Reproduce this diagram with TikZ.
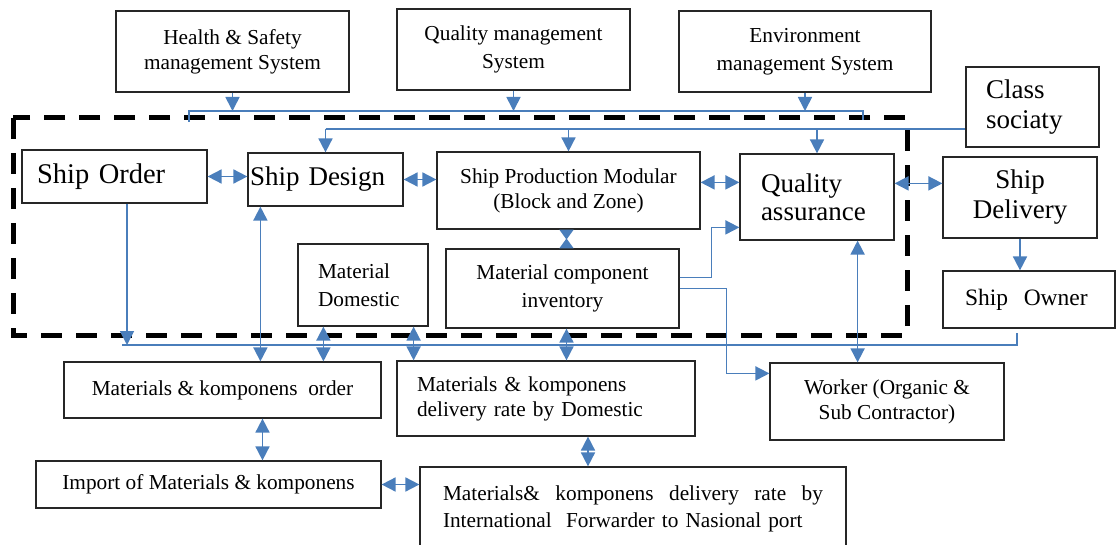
\documentclass[tikz,border=0pt]{standalone}
\usepackage{fontspec}
\setmainfont{Liberation Serif}
\usepackage{tikz}
\usetikzlibrary{arrows.meta}
\definecolor{lineblue}{RGB}{74,126,187}
\newcommand{\normtxt}{\fontsize{21.3}{27}\selectfont}
\newcommand{\bigtxt}{\fontsize{27}{30}\selectfont}

\begin{document}
\begin{tikzpicture}[x=1pt, y=-1pt,
    box/.style={draw=black!85, line width=1.2pt, inner sep=0pt, align=center, font=\normtxt},
    wire/.style={draw=lineblue, line width=1.7pt},
    arr/.style={wire, -{Triangle[length=14pt,width=14pt]}},
    dbl/.style={wire, {Triangle[length=14pt,width=14pt]}-{Triangle[length=14pt,width=14pt]}},
    dashframe/.style={draw=black, line width=5pt, dash pattern=on 21pt off 14pt}]

    \useasboundingbox (0,0) rectangle (1116,545);

    % Shipyard frame
    \draw[dashframe] (13,118) rectangle (907,335);

    % Management systems
    \node[box, minimum width=233pt, minimum height=81pt] (hs) at (232.5,51.5) {Health \& Safety\\[-2pt]management System};
    \node[box, minimum width=233pt, minimum height=81pt] (qms) at (513.5,49.5) {Quality management\\[1pt]System};
    \node[box, minimum width=252pt, minimum height=81pt] (ems) at (805,51.5) {Environment\\[1pt]management System};
    \node[box, font=\bigtxt, align=left, text width=93pt, minimum width=133pt, minimum height=80pt] (cs) at (1032.5,107) {Class\\sociaty};

    % Ship process
    \node[box, font=\fontsize{28.5}{30}\selectfont, align=left, text width=155pt, minimum width=185pt, minimum height=53pt] (so) at (114.5,176.5) {Ship Order};
    \node[box, font=\bigtxt, align=left, text width=151pt, minimum width=155pt, minimum height=53pt] (sd) at (325.5,179.5) {Ship Design};
    \node[box, minimum width=263pt, minimum height=77pt] (sp) at (568.5,190.5) {Ship Production Modular\\[-2pt](Block and Zone)};
    \node[box, font=\bigtxt, align=left, text width=112pt, minimum width=154pt, minimum height=86pt] (qa) at (817,197) {Quality\\[-2pt]assurance};
    \node[box, font=\bigtxt, minimum width=154pt, minimum height=81pt] (sdl) at (1020,197.5) {Ship\\Delivery};
    \node[box, font=\fontsize{23.5}{27}\selectfont, align=left, text width=128pt, minimum width=172pt, minimum height=57pt] (sow) at (1029,299.5) {Ship\ \ Owner};
    \node[box, align=left, text width=90pt, minimum width=130pt, minimum height=82pt] (md) at (363,285) {Material\\[1pt]Domestic};
    \node[box, minimum width=233pt, minimum height=79pt] (mci) at (562.5,288.5) {Material component\\[1pt]inventory};

    % Supply side
    \node[box, minimum width=317pt, minimum height=56pt] (mo) at (222.5,390) {Materials \& komponens\ \ order};
    \node[box, align=left, text width=258pt, minimum width=298pt, minimum height=75pt] (mdd) at (546,398.5) {Materials \& komponens\\[-2pt]delivery rate by Domestic};
    \node[box, minimum width=234pt, minimum height=77pt] (wk) at (887,401.5) {Worker (Organic \&\\[-2pt]Sub Contractor)};
    \node[box, minimum width=345pt, minimum height=47pt] (imp) at (208.5,484.5) {Import of Materials \& komponens};
    \node[box, align=left, text width=380pt, minimum width=426pt, minimum height=83pt] (intl) at (633,508.5) {Materials\&\hfill komponens\hfill delivery\hfill rate\hfill by\\International\ \ Forwarder to Nasional port};

    % Helper points
    \coordinate (topbar) at (500,111);
    \coordinate (tl) at (189,122);
    \coordinate (tr) at (863,120);
    \coordinate (clbar) at (600,129);
    \coordinate (bus) at (500,345);
    \coordinate (busl) at (122,345);
    \coordinate (busr) at (1017,333);

    % Systems to the shipyard
    \draw[wire] (tl) |- (topbar) -| (tr);
    \draw[arr] (hs.south) -- (hs.south |- topbar);
    \draw[arr] (qms.south) -- (qms.south |- topbar);
    \draw[arr] (ems.south) -- (ems.south |- topbar);
    \draw[wire] (sd.north |- clbar) -- (cs.west |- clbar);
    \draw[arr] (sd.north |- clbar) -- (sd.north);
    \draw[arr] (sp.north |- clbar) -- (sp.north);
    \draw[arr] (qa.north |- clbar) -- (qa.north);

    % Main flow
    \draw[dbl] (so.east) -- (so.east -| sd.west);
    \draw[dbl] (sd.east) -- (sd.east -| sp.west);
    \coordinate (spqa) at ([yshift=-31pt]sp.north east);
    \draw[dbl] (spqa) -- (spqa -| qa.west);
    \coordinate (qasd) at ([yshift=-30pt]qa.north east);
    \draw[dbl] (qasd) -- (qasd -| sdl.west);
    \draw[arr] (sdl.south) -- (sdl.south |- sow.north);
    \coordinate (spm) at ([xshift=-2pt]sp.south);
    \draw[wire, {Triangle[reversed,length=10pt,width=14pt]}-{Triangle[reversed,length=10pt,width=14pt]}] (spm) -- (spm |- mci.north);
    \coordinate (mq) at ([yshift=11pt]mci.east);
    \draw[arr] (mq) -- ++(32,0) |- ([yshift=-74pt]qa.north west);
    \draw[arr] (mci.east) -- ++(47,0) |- ([yshift=-11pt]wk.north west);

    % Material bus
    \draw[wire] (busl) -| (busr);
    \coordinate (soa) at ([xshift=12.5pt]so.south);
    \draw[arr] (soa) -- (soa |- bus);
    \coordinate (sdm) at ([xshift=13pt]sd.south west);
    \draw[dbl] (sdm) -- (sdm |- mo.north);
    \coordinate (mdo) at ([xshift=26pt]md.south west);
    \draw[dbl] (mdo) -- (mdo |- mo.north);
    \coordinate (mdr) at ([xshift=-15pt]md.south east);
    \draw[dbl] (mdr) -- (mdr |- mdd.north);
    \coordinate (mcd) at ([xshift=4pt]mci.south);
    \draw[dbl] (mcd) -- (mcd |- mdd.north);
    \coordinate (qaw) at ([xshift=-37pt]qa.south east);
    \draw[dbl] (qaw) -- (qaw |- wk.north);

    % Import chain
    \coordinate (moi) at ([xshift=40pt]mo.south);
    \draw[dbl] (moi) -- (moi |- imp.north);
    \draw[dbl] (imp.east) -- (imp.east -| intl.west);
    \coordinate (mdi) at ([xshift=42pt]mdd.south);
    \draw[dbl] (mdi) -- (mdi |- intl.north);
\end{tikzpicture}
\end{document}
